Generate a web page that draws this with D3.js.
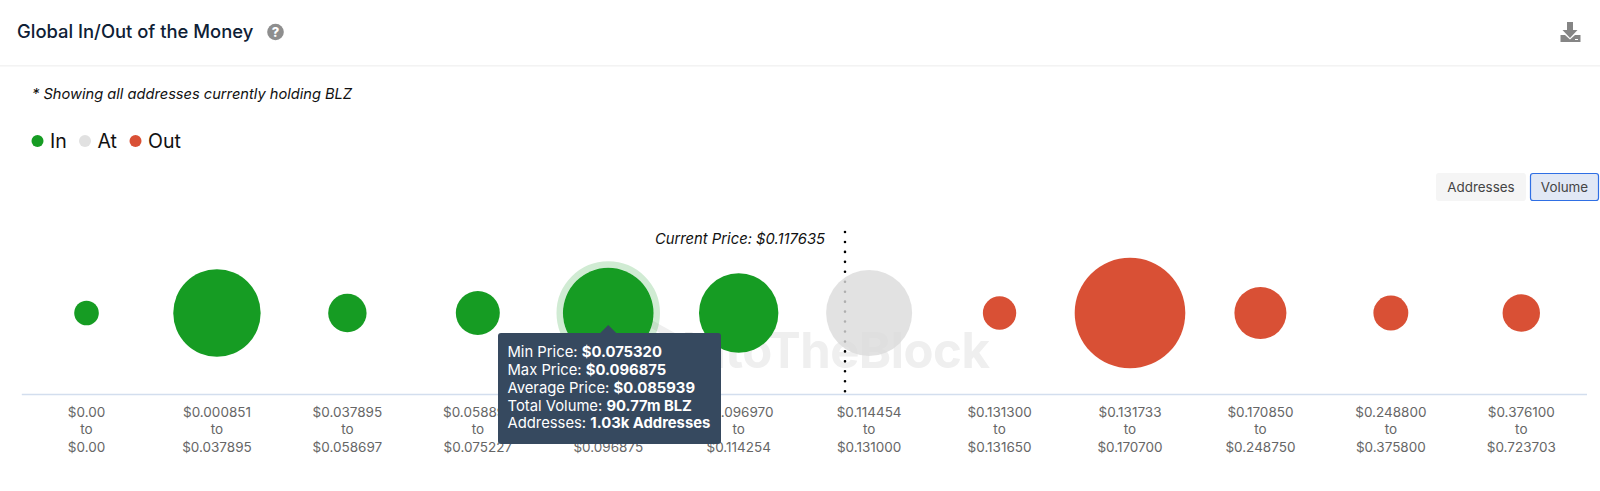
<!DOCTYPE html>
<html><head><meta charset="utf-8">
<script src="https://cdn.jsdelivr.net/npm/d3@7/dist/d3.min.js"></script>
<style>
html,body{margin:0;padding:0;background:#fff;overflow:hidden}
svg{display:block;font-family:Inter,"Noto Sans",sans-serif}
</style></head><body><svg id="c" width="1600" height="491"></svg>
<script>
const rangeFrom = ["$0.00","$0.000851","$0.037895","$0.058897","$0.075320","$0.096970","$0.114454","$0.131300","$0.131733","$0.170850","$0.248800","$0.376100"];
const rangeTo = ["$0.00","$0.037895","$0.058697","$0.075227","$0.096875","$0.114254","$0.131000","$0.131650","$0.170700","$0.248750","$0.375800","$0.723703"];
const status = ["In","In","In","In","In","In","At","Out","Out","Out","Out","Out"];
const volumes = [6.7,84.5,16.3,21.4,90.77,69.7,81.8,12.3,135.3,29.9,13.5,15.5];
const legendKeys = ["In","At","Out"];
const legendColors = ["#169c23","#e1e1e1","#d95035"];
const tooltipLabels = ["Min Price: ","Max Price: ","Average Price: ","Total Volume: ","Addresses: "];
const tooltipValues = ["$0.075320","$0.096875","$0.085939","90.77m BLZ","1.03k Addresses"];
const activeIndex = 4;
const currentPrice = "Current Price: $0.117635";

const svg = d3.select("#c");
const color = d3.scaleOrdinal(legendKeys, legendColors);
const x = d3.scaleBand(d3.range(volumes.length), [21.3, 1586.5]);
const r = d3.scaleSqrt([0, 90.77], [0, 45.3]);
const cy = 313;

// header
svg.append("text").attr("x",17).attr("y",37.5).attr("font-size",18.4).attr("font-weight",500).attr("fill","#0e2035").text("Global In/Out of the Money");
const q = svg.append("g").attr("transform","translate(275.5,32)");
q.append("circle").attr("r",8.3).attr("fill","#8e8e8e");
q.append("text").attr("y",4.6).attr("text-anchor","middle").attr("font-size",13).attr("font-weight",800).attr("fill","#fff").text("?");
svg.append("rect").attr("x",0).attr("y",65).attr("width",1600).attr("height",1.6).attr("fill","#f3f3f3");
// download icon
const dl = svg.append("g").attr("fill","#858585");
dl.append("path").attr("d","M1567 22h6v8h4.5l-7.5 8-7.5-8h4.5z");
dl.append("path").attr("d","M1560.500 35h4.5l5 4.500 5-4.500h5.500v7h-20z");
svg.append("rect").attr("x",1575).attr("y",39).attr("width",3).attr("height",1).attr("fill","#fff");

svg.append("text").attr("x",32).attr("y",98.500).attr("font-size",14.65).attr("font-style","italic").attr("fill","#111").text("* Showing all addresses currently holding BLZ");

// legend
const legendX = [37.5,85,135.5];
legendKeys.forEach((k,i)=>{
  svg.append("circle").attr("cx",legendX[i]).attr("cy",141).attr("r",6).attr("fill",color(k));
  svg.append("text").attr("x",legendX[i]+12.5).attr("y",148).attr("font-size",19.5).attr("fill","#111").text(k);
});

// toggle
svg.append("rect").attr("x",1436).attr("y",173).attr("width",90).attr("height",28).attr("rx",3).attr("fill","#f5f5f5");
svg.append("text").attr("x",1481).attr("y",191.500).attr("text-anchor","middle").attr("font-size",13.4).attr("fill","#444").text("Addresses");
svg.append("rect").attr("x",1530.500).attr("y",173.500).attr("width",68).attr("height",27).attr("rx",2.500).attr("fill","#e1e8f5").attr("stroke","#2f6fe4").attr("stroke-width",1.2);
svg.append("text").attr("x",1564.500).attr("y",191.500).attr("text-anchor","middle").attr("font-size",13.4).attr("fill","#444").text("Volume");

// watermark
const wm = svg.append("g").attr("fill","#efefef");
wm.append("path").attr("d","M648 318 L682 337 L678 343 L644 324 Z");
wm.append("text").attr("x",682).attr("y",368).attr("font-size",49).attr("font-weight",700).attr("letter-spacing",-0.5).text("IntoTheBlock");

// current price line
svg.append("line").attr("x1",845).attr("x2",845).attr("y1",232).attr("y2",393)
  .attr("stroke","#000").attr("stroke-width",2.6).attr("stroke-linecap","round").attr("stroke-dasharray","0 9.95");
svg.append("text").attr("x",825).attr("y",244).attr("text-anchor","end").attr("font-size",14.8).attr("font-style","italic").attr("fill","#111").text(currentPrice);

// axis
const axis = d3.axisBottom(x).tickSize(0).tickFormat("");
const ga = svg.append("g").attr("transform","translate(0,394)").call(axis);
ga.select(".domain").attr("stroke","#d3deee").attr("stroke-width",1.5);
ga.selectAll(".tick text").each(function(i){
  const t = d3.select(this).attr("y",0).attr("dy",null).attr("font-size",13.5).attr("font-family","Inter,'Noto Sans',sans-serif").attr("fill","#666");
  [rangeFrom[i],"to",rangeTo[i]].forEach((s,j)=>t.append("tspan").attr("x",0).attr("y",22.500+j*17.5).text(s));
});

// bubbles
svg.append("circle").attr("cx",x(activeIndex)+x.bandwidth()/2).attr("cy",cy).attr("r",r(volumes[activeIndex])+3.2)
  .attr("fill","none").attr("stroke",color("In")).attr("stroke-opacity",.2).attr("stroke-width",6.5);
svg.append("g").selectAll("circle").data(volumes).join("circle")
  .attr("cx",(d,i)=>x(i)+x.bandwidth()/2).attr("cy",cy).attr("r",d=>r(d))
  .attr("fill",(d,i)=>status[i]==="At"?"#dbdbdb":color(status[i]))
  .attr("fill-opacity",(d,i)=>status[i]==="At"?.8:1);

// tooltip
const tx = x(activeIndex)+x.bandwidth()/2;
const tip = svg.append("g");
tip.append("path").attr("d",`M${tx-9} 334 L${tx} 325 L${tx+9} 334 Z`).attr("fill","#36495f");
tip.append("rect").attr("x",498).attr("y",333).attr("width",223).attr("height",111).attr("rx",3).attr("fill","#36495f");
tooltipLabels.forEach((l,i)=>{
  const t = tip.append("text").attr("x",507.500).attr("y",357+i*17.85).attr("font-size",14.8).attr("fill","#fff");
  t.append("tspan").text(l);
  t.append("tspan").attr("font-weight",700).text(tooltipValues[i]);
});
</script></body></html>
